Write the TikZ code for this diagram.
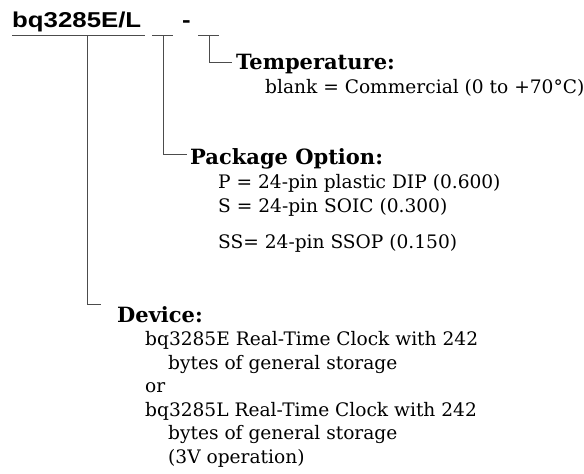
\documentclass[tikz,border=0pt]{standalone}
\usepackage{fontspec}
\setmainfont{DejaVu Serif}
\newfontfamily\titlefont{Liberation Sans}[FakeStretch=1.2]
\begin{document}
\begin{tikzpicture}[x=1pt,y=-1pt,
  conn/.style={draw=black!70,line width=0.9pt},
  txt/.style={anchor=base west,inner sep=0pt,font=\fontsize{18.6}{23.5}\selectfont},
  head/.style={txt,font=\fontsize{21}{24}\selectfont\bfseries},
  ttl/.style={anchor=base west,inner sep=0pt,font=\titlefont\bfseries\fontsize{21.5}{24}\selectfont}]
\useasboundingbox (0,0) rectangle (584,474);
% title
\node[ttl] (title) at (12,27) {bq3285E/L};
\node[ttl] (dash) at (182,27) {-};
% underlines
\coordinate (u1a) at (12,35); \coordinate (u1b) at (145,35);
\coordinate (u2a) at (152,35); \coordinate (u2b) at (173,35);
\coordinate (u3a) at (198,35); \coordinate (u3b) at (219,35);
\draw[conn] (u1a) -- (u1b);
\draw[conn] (u2a) -- (u2b);
\draw[conn] (u3a) -- (u3b);
% connectors
\coordinate (v1) at (87,35); \coordinate (e1) at (101,304);
\coordinate (v2) at (163,35); \coordinate (e2) at (187,154);
\coordinate (v3) at (209,35); \coordinate (e3) at (232,62);
\draw[conn] (v1) |- (e1);
\draw[conn] (v2) |- (e2);
\draw[conn] (v3) |- (e3);
% temperature
\node[head] (temp) at (236,69) {Temperature:};
\node[txt] (tempa) at (265,93) {blank = Commercial (0 to +70°C)};
% package
\node[head] (pkg) at (190,164) {Package Option:};
\node[txt] (pkga) at (218,188.5) {P = 24-pin plastic DIP (0.600)};
\node[txt] (pkgb) at (218,212) {S = 24-pin SOIC (0.300)};
\node[txt] (pkgc) at (218,248) {SS= 24-pin SSOP (0.150)};
% device
\node[head] (dev) at (117,322) {Device:};
\node[txt] (d1) at (145,345.5) {bq3285E Real-Time Clock with 242};
\node[txt] (d2) at (168,369) {bytes of general storage};
\node[txt] (d3) at (145,392.5) {or};
\node[txt] (d4) at (145,416) {bq3285L Real-Time Clock with 242};
\node[txt] (d5) at (168,439.5) {bytes of general storage};
\node[txt] (d6) at (168,463) {(3V operation)};
\end{tikzpicture}
\end{document}
